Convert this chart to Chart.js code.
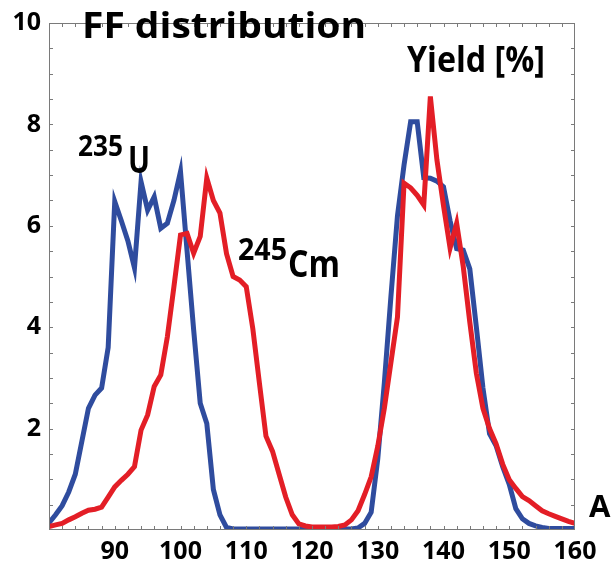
<!DOCTYPE html>
<html>
<head>
<meta charset="utf-8">
<title>FF distribution</title>
<script src="https://cdn.jsdelivr.net/npm/chart.js@4"></script>
<style>
  html, body { margin: 0; padding: 0; background: #fff; }
  canvas { display: block; }
</style>
</head>
<body>
<canvas id="ffChart" width="611" height="564"></canvas>
<script>
// mass number A
const massNumbers = [
    80, 81, 82, 83, 84, 85, 86, 87, 88, 89,
    90, 91, 92, 93, 94, 95, 96, 97, 98, 99,
    100, 101, 102, 103, 104, 105, 106, 107, 108, 109,
    110, 111, 112, 113, 114, 115, 116, 117, 118, 119,
    120, 121, 122, 123, 124, 125, 126, 127, 128, 129,
    130, 131, 132, 133, 134, 135, 136, 137, 138, 139,
    140, 141, 142, 143, 144, 145, 146, 147, 148, 149,
    150, 151, 152, 153, 154, 155, 156, 157, 158, 159, 160,
];

// yield [%] for 235U
const u235Yield = [
    0.14, 0.3, 0.48, 0.75, 1.1, 1.75, 2.4, 2.66, 2.8, 3.6,
    6.48, 6.1, 5.7, 5.17, 6.87, 6.31, 6.57, 5.95, 6.05, 6.5,
    7.07, 5.5, 3.95, 2.5, 2.1, 0.8, 0.3, 0.05, 0.02, 0.02,
    0.02, 0.02, 0.02, 0.02, 0.02, 0.02, 0.02, 0.02, 0.02, 0.02,
    0.02, 0.02, 0.02, 0.02, 0.02, 0.02, 0.02, 0.04, 0.13, 0.35,
    1.4, 2.9, 4.6, 6.2, 7.2, 8.05, 8.05, 6.95, 6.94, 6.88,
    6.77, 6.1, 5.55, 5.52, 5.15, 4.0, 2.8, 1.9, 1.66, 1.25,
    0.9, 0.42, 0.22, 0.13, 0.08, 0.05, 0.03, 0.03, 0.03, 0.03, 0.03,
];

// yield [%] for 245Cm
const cm245Yield = [
    0.07, 0.1, 0.13, 0.2, 0.26, 0.33, 0.39, 0.41, 0.45, 0.65,
    0.85, 0.98, 1.1, 1.25, 1.97, 2.27, 2.83, 3.06, 3.81, 4.8,
    5.82, 5.85, 5.46, 5.79, 6.94, 6.5, 6.25, 5.45, 5.0, 4.93,
    4.8, 3.97, 2.9, 1.85, 1.55, 1.1, 0.65, 0.3, 0.12, 0.08,
    0.06, 0.06, 0.06, 0.06, 0.07, 0.1, 0.2, 0.38, 0.7, 1.05,
    1.65, 2.4, 3.3, 4.2, 6.84, 6.75, 6.6, 6.41, 8.55, 7.3,
    6.4, 5.56, 6.05, 5.2, 4.1, 3.09, 2.4, 2.0, 1.7, 1.3,
    0.99, 0.82, 0.66, 0.58, 0.48, 0.38, 0.32, 0.27, 0.22, 0.17, 0.13,
];

const xTickLabels = [90, 100, 110, 120, 130, 140, 150, 160];
const yTickLabels = [2, 4, 6, 8, 10];

const FONT = '"Open Sans", "Liberation Sans", Arial, sans-serif';

// draw bold text squeezed/stretched into a given width
function fitText(ctx, text, x, y, width, size) {
    ctx.save();
    ctx.font = "bold " + size + "px " + FONT;
    ctx.textBaseline = "alphabetic";
    ctx.textAlign = "left";
    const w = ctx.measureText(text).width;
    ctx.translate(x, y);
    if (width) ctx.scale(width / w, 1);
    ctx.fillStyle = "#000";
    ctx.fillText(text, 0, 0);
    ctx.restore();
}

// frame and inward ticks on all four sides
const framePlugin = {
    id: "frame",
    afterDatasetsDraw(chart) {
        const { ctx, chartArea: a, scales } = chart;
        ctx.save();
        ctx.strokeStyle = "#7a7a7a";
        ctx.lineWidth = 1;
        ctx.strokeRect(a.left + 0.5, a.top + 0.5, a.right - a.left - 1, a.bottom - a.top - 1);
        ctx.beginPath();
        for (let v = 82; v < 160; v += 2) {
            const px = Math.round(scales.x.getPixelForValue(v)) + 0.5;
            ctx.moveTo(px, a.bottom);
            ctx.lineTo(px, a.bottom - 4);
            ctx.moveTo(px, a.top);
            ctx.lineTo(px, a.top + 4);
        }
        for (let v = 0.5; v < 10; v += 0.5) {
            const py = Math.round(scales.y.getPixelForValue(v)) + 0.5;
            ctx.moveTo(a.left, py);
            ctx.lineTo(a.left + 4, py);
            ctx.moveTo(a.right, py);
            ctx.lineTo(a.right - 4, py);
        }
        ctx.stroke();
        ctx.restore();
    },
    afterDraw(chart) {
        const ctx = chart.ctx;
        fitText(ctx, "FF distribution", 82, 38, 284, 36);
        fitText(ctx, "Yield [%]", 407, 72, 138, 36);
        fitText(ctx, "235", 78, 156, 45, 29);
        fitText(ctx, "U", 128, 173, 22, 38);
        fitText(ctx, "245", 238, 260, 49, 30);
        fitText(ctx, "Cm", 288, 277, 52, 37);
        fitText(ctx, "A", 589, 517, 0, 31);
    },
};

const el = document.getElementById("ffChart");

new Chart(el, {
    type: "line",
    data: {
        datasets: [
            {
                label: "245Cm",
                data: massNumbers.map((a, i) => ({ x: a, y: cm245Yield[i] })),
                borderColor: "#e31e26",
                borderWidth: 5,
                pointRadius: 0,
                tension: 0,
                order: 1,
            },
            {
                label: "235U",
                data: massNumbers.map((a, i) => ({ x: a, y: u235Yield[i] })),
                borderColor: "#2f4c9e",
                borderWidth: 5,
                pointRadius: 0,
                tension: 0,
                order: 2,
            },
        ],
    },
    options: {
        responsive: false,
        animation: false,
        layout: { padding: { top: 23, right: 36, left: 0, bottom: 0 } },
        plugins: {
            legend: { display: false },
            tooltip: { enabled: false },
        },
        scales: {
            x: {
                type: "linear",
                min: 80,
                max: 160,
                grid: { display: false, drawTicks: false },
                border: { display: false },
                afterFit(scale) { scale.height = 34; },
                afterBuildTicks(scale) {
                    scale.ticks = xTickLabels.map((v) => ({ value: v }));
                },
                ticks: {
                    padding: 7,
                    color: "#000",
                    maxRotation: 0,
                    font: { family: FONT, size: 25, weight: "bold" },
                },
            },
            y: {
                min: 0,
                max: 10,
                grid: { display: false, drawTicks: false },
                border: { display: false },
                afterFit(scale) { scale.width = 49; },
                afterBuildTicks(scale) {
                    scale.ticks = yTickLabels.map((v) => ({ value: v }));
                },
                ticks: {
                    padding: 8,
                    color: "#000",
                    font: { family: FONT, size: 25, weight: "bold" },
                },
            },
        },
    },
    plugins: [framePlugin],
});
</script>
</body>
</html>
